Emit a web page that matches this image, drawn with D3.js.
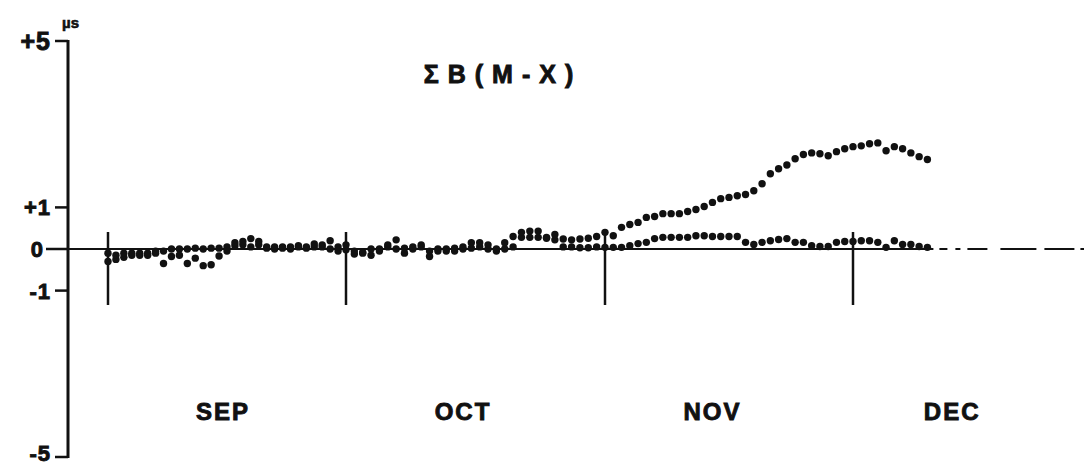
<!DOCTYPE html>
<html>
<head>
<meta charset="utf-8">
<script src="https://cdn.jsdelivr.net/npm/d3@7"></script>
<style>
  body { margin: 0; background: #fff; }
  text { font-family: "Liberation Sans", Arial, sans-serif; font-weight: bold; fill: #111; stroke: #111; stroke-width: 0.9px; }
</style>
</head>
<body>
<div id="chart"></div>
<script>
// month boundaries and labels
const monthStarts = ["2001-09-01", "2001-10-01", "2001-11-01", "2001-12-01"];
const monthLabels = ["SEP", "OCT", "NOV", "DEC"];
const labelDates = ["2001-09-15T12:00", "2001-10-15", "2001-11-14", "2001-12-13"];
const yTicks = [5, 1, 0, -1, -5];
const yTickLabels = ["+5", "+1", "0", "-1", "-5"];

// daily values from Sep 1, in microseconds
const firstDay = "2001-09-01";
const upperSeries = [
  -0.1, -0.15, -0.1, -0.1, -0.1, -0.1, -0.05, -0.35, -0.18, -0.15, -0.35, -0.22, -0.4, -0.38, -0.17,
  -0.05, 0.15, 0.18, 0.25, 0.18, 0.05, 0.05, 0.02, 0.05, 0.08, 0.05, 0.12, 0.05, 0.2, 0.05,
  0.1, -0.05, -0.1, 0.0, 0.0, 0.1, 0.22, -0.1, 0.05, 0.1, -0.18, -0.05, 0.0, 0.02, 0.05, 0.15,
  0.15, 0.1, 0.0, 0.15, 0.3, 0.4, 0.43, 0.43, 0.28, 0.35, 0.24, 0.22, 0.24, 0.26, 0.3,
  0.40, 0.32, 0.52, 0.59, 0.64, 0.76, 0.78, 0.85, 0.85, 0.85, 0.90, 0.95, 1.02, 1.12, 1.21,
  1.24, 1.28, 1.31, 1.40, 1.57, 1.81, 1.93, 2.02, 2.17, 2.27, 2.31, 2.29, 2.24, 2.34, 2.41,
  2.46, 2.48, 2.53, 2.55, 2.36, 2.46, 2.41, 2.31, 2.22, 2.15
];
const lowerSeries = [
  -0.3, -0.25, -0.2, -0.15, -0.15, -0.15, -0.1, -0.05, 0, 0, 0, 0.02, 0, 0.02, 0.02,
  0.05, 0.08, 0.1, 0.05, 0.1, 0.02, 0, 0.05, 0, 0.05, 0.02, 0.05, 0.1, 0, -0.05,
  -0.02, -0.12, -0.08, -0.15, -0.05, 0.05, 0.0, 0.02, 0.0, 0.05, -0.05, 0.0, -0.05, -0.05, 0.0, 0.02,
  0.05, 0.0, -0.05, 0.0, 0.05, 0.28, 0.28, 0.28, 0.26, 0.22, 0.05, 0.05, 0.03, 0.03, 0.05,
  0.04, 0.04, 0.04, 0.08, 0.13, 0.16, 0.25, 0.28, 0.28, 0.28, 0.28, 0.32, 0.32, 0.30, 0.30,
  0.30, 0.30, 0.16, 0.11, 0.16, 0.20, 0.23, 0.25, 0.16, 0.16, 0.08, 0.06, 0.06, 0.16, 0.18,
  0.18, 0.20, 0.20, 0.16, 0.04, 0.20, 0.11, 0.11, 0.06, 0.04
];

const width = 1084, height = 469;

const svg = d3.select("#chart")
  .append("svg")
    .attr("width", width)
    .attr("height", height);

const parse = d3.isoParse;
const day0 = parse(firstDay);

// month lengths on the original plot are not quite even
const x = d3.scaleTime()
  .domain(monthStarts.map(parse))
  .range([108, 346, 605, 853]);

const y = d3.scaleLinear()
  .domain([-5, 5])
  .range([457, 41]);

const axisX = 68;

// Y axis
svg.append("line")
  .attr("x1", axisX).attr("x2", axisX)
  .attr("y1", y(5) - 1).attr("y2", y(-5) + 1)
  .attr("stroke", "#111").attr("stroke-width", 3);

yTicks.forEach(function(t, i) {
  svg.append("line")
    .attr("x1", t === 0 ? 46 : 55).attr("x2", axisX)
    .attr("y1", y(t)).attr("y2", y(t))
    .attr("stroke", "#111").attr("stroke-width", 2.5);
  svg.append("text")
    .attr("x", t === 0 ? 44 : 51)
    .attr("y", y(t))
    .attr("dy", t === -5 ? "0.2em" : "0.36em")
    .attr("text-anchor", "end")
    .style("font-size", t === 5 ? "25px" : "22px")
    .style("letter-spacing", "1px")
    .text(yTickLabels[i]);
});

// unit
svg.append("text")
  .attr("x", 62).attr("y", 28)
  .style("font-size", "15px")
  .style("stroke-width", "0.6px")
  .text("µs");

// zero line: solid over the data, broken beyond it
const lastDay = d3.timeDay.offset(day0, upperSeries.length - 1);
svg.append("line")
  .attr("x1", axisX).attr("x2", x(lastDay) + 6)
  .attr("y1", y(0)).attr("y2", y(0))
  .attr("stroke", "#111").attr("stroke-width", 2);
svg.append("line")
  .attr("x1", x(lastDay) + 12).attr("x2", width)
  .attr("y1", y(0)).attr("y2", y(0))
  .attr("stroke", "#111").attr("stroke-width", 2)
  .attr("stroke-dasharray", "8,8,5,7,20,13,36,8,30,6");

// month boundary ticks
svg.selectAll(".month-tick")
  .data(monthStarts)
  .enter().append("line")
    .attr("class", "month-tick")
    .attr("x1", d => x(parse(d))).attr("x2", d => x(parse(d)))
    .attr("y1", 232).attr("y2", 305)
    .attr("stroke", "#111").attr("stroke-width", 2.5);

// month labels
svg.selectAll(".month-label")
  .data(monthLabels)
  .enter().append("text")
    .attr("class", "month-label")
    .attr("x", (d, i) => x(parse(labelDates[i])))
    .attr("y", 420)
    .attr("text-anchor", "middle")
    .style("font-size", "24px")
    .style("letter-spacing", "2px")
    .text(d => d);

// title
svg.append("text")
  .attr("x", 503).attr("y", 83)
  .attr("text-anchor", "middle")
  .style("font-size", "25px")
  .style("letter-spacing", "9px")
  .text("ΣB(M-X)");

// the dots
[lowerSeries, upperSeries].forEach(function(series) {
  svg.append("g")
    .selectAll("circle")
    .data(series)
    .enter().append("circle")
      .attr("cx", (d, i) => x(d3.timeDay.offset(day0, i)))
      .attr("cy", d => y(d))
      .attr("r", 3.7)
      .attr("fill", "#111");
});
</script>
</body>
</html>
